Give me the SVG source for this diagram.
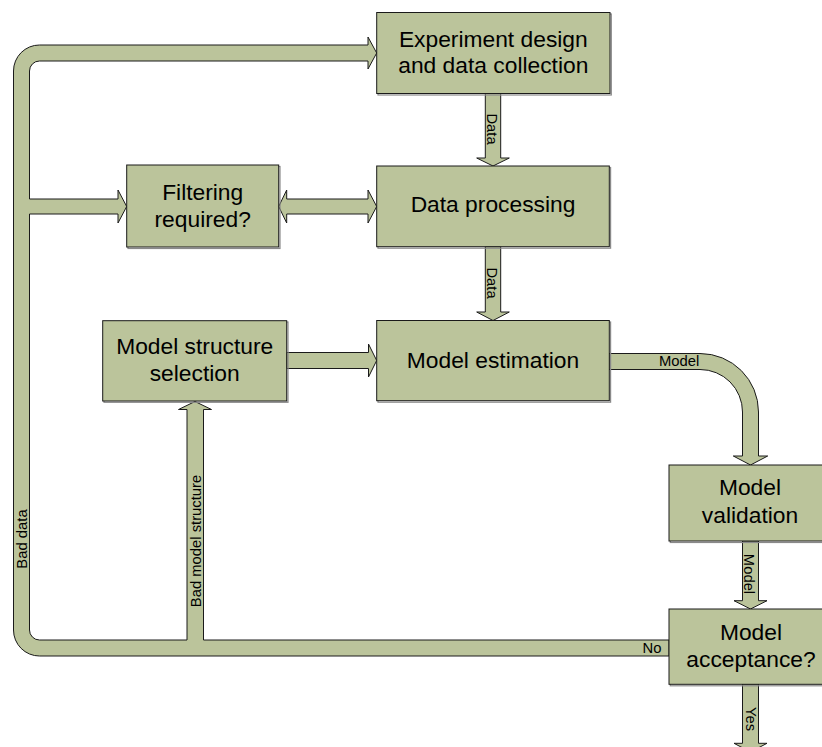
<svg xmlns="http://www.w3.org/2000/svg" width="822" height="747" viewBox="0 0 822 747">
<style>
.box{fill:#bbc49b;stroke:#1a1a1a;stroke-width:1}
.shadow{fill:none;stroke:#8a8a8a;stroke-width:1.2}
.arr{fill:#bbc49b;stroke:#1a1a1a;stroke-width:1;stroke-linejoin:miter}
.t{font-family:"Liberation Sans",Arial,sans-serif;font-size:22.8px;fill:#000;text-anchor:middle}
.l{font-family:"Liberation Sans",Arial,sans-serif;font-size:14.8px;fill:#000}
</style>
<rect width="822" height="747" fill="#fff"/>
<g id="connectors">
<path class="arr" d="M39.5,45 H368 V37 L376.7,53 L368,69 V61 H39.5 A10 10 0 0 0 29.5,71 V199 H118 V190 L126.7,206.5 L118,223 V214 H29.5 V630 A10 10 0 0 0 39.5,640 H187 V409.5 H178.5 L195,401.5 L211.5,409.5 H203.5 V640 H669 V656 H39.5 A26 26 0 0 1 13.5,630 V71 A26 26 0 0 1 39.5,45 Z"/>
<path class="arr" d="M278.7,206.5 L286.7,190 V199 H368 V190 L376.7,206.5 L368,223 V214 H286.7 V223 Z"/>
<path class="arr" d="M485.3,93.5 V158 H476.7 L493,166 L509.3,158 H500.7 V93.5 Z"/>
<path class="arr" d="M485.3,246.5 V312 H476.7 L493,320.5 L509.3,312 H500.7 V246.5 Z"/>
<path class="arr" d="M286.5,352.5 H368.5 V344 L376.7,360.5 L368.5,377 V368.5 H286.5 Z"/>
<path class="arr" d="M609,353.5 H700 A58.5 58.5 0 0 1 758.5,412 V456 H767.7 L750.5,465 L733.3,456 H742.5 V412 A42.5 42.5 0 0 0 700,369.5 H609 Z"/>
<path class="arr" d="M742.5,541 V600.7 H734 L750.5,609 L767,600.7 H758.5 V541 Z"/>
<path class="arr" d="M742.5,684 V743.3 H734 L750.5,752 L767,743.3 H758.5 V684 Z"/>
<text class="l" transform="translate(486.5,129) rotate(90)" text-anchor="middle">Data</text>
<text class="l" transform="translate(486.5,283) rotate(90)" text-anchor="middle">Data</text>
<text class="l" x="659" y="365.5">Model</text>
<text class="l" transform="translate(743.5,574) rotate(90)" text-anchor="middle">Model</text>
<text class="l" x="642.5" y="652.5">No</text>
<text class="l" transform="translate(745.5,719) rotate(90)" text-anchor="middle">Yes</text>
<text class="l" transform="translate(26.5,539) rotate(-90)" text-anchor="middle">Bad data</text>
<text class="l" transform="translate(201,541) rotate(-90)" text-anchor="middle">Bad model structure</text>
</g>
<g id="experiment">
<rect class="shadow" x="378" y="14" width="233.3" height="81"/>
<rect class="box" x="376.7" y="12.5" width="233.3" height="81"/>
<text class="t" x="493.3" y="46.7">Experiment design</text>
<text class="t" x="493.3" y="73.3">and data collection</text>
</g>
<g id="filtering">
<rect class="shadow" x="128" y="166.5" width="152" height="82"/>
<rect class="box" x="126.7" y="165" width="152" height="82"/>
<text class="t" x="202.7" y="200">Filtering</text>
<text class="t" x="202.7" y="226.7">required?</text>
</g>
<g id="processing">
<rect class="shadow" x="378" y="167.5" width="232.6" height="80.7"/>
<rect class="box" x="376.7" y="166" width="232.6" height="80.7"/>
<text class="t" x="493" y="212.3">Data processing</text>
</g>
<g id="structure">
<rect class="shadow" x="104" y="322" width="184" height="80.3"/>
<rect class="box" x="102.7" y="320.7" width="184" height="80.3"/>
<text class="t" x="194.7" y="354">Model structure</text>
<text class="t" x="194.7" y="381">selection</text>
</g>
<g id="estimation">
<rect class="shadow" x="378" y="322" width="232.6" height="80.2"/>
<rect class="box" x="376.7" y="320.5" width="232.6" height="80.2"/>
<text class="t" x="493" y="368.3">Model estimation</text>
</g>
<g id="validation">
<rect class="shadow" x="670.3" y="466.5" width="163" height="76"/>
<rect class="box" x="669" y="465" width="163" height="76"/>
<text class="t" x="750" y="495">Model</text>
<text class="t" x="750" y="523.3">validation</text>
</g>
<g id="acceptance">
<rect class="shadow" x="670.3" y="610.5" width="163" height="75.3"/>
<rect class="box" x="669" y="609" width="163" height="75.3"/>
<text class="t" x="751" y="640">Model</text>
<text class="t" x="751" y="666.7">acceptance?</text>
</g>
</svg>
